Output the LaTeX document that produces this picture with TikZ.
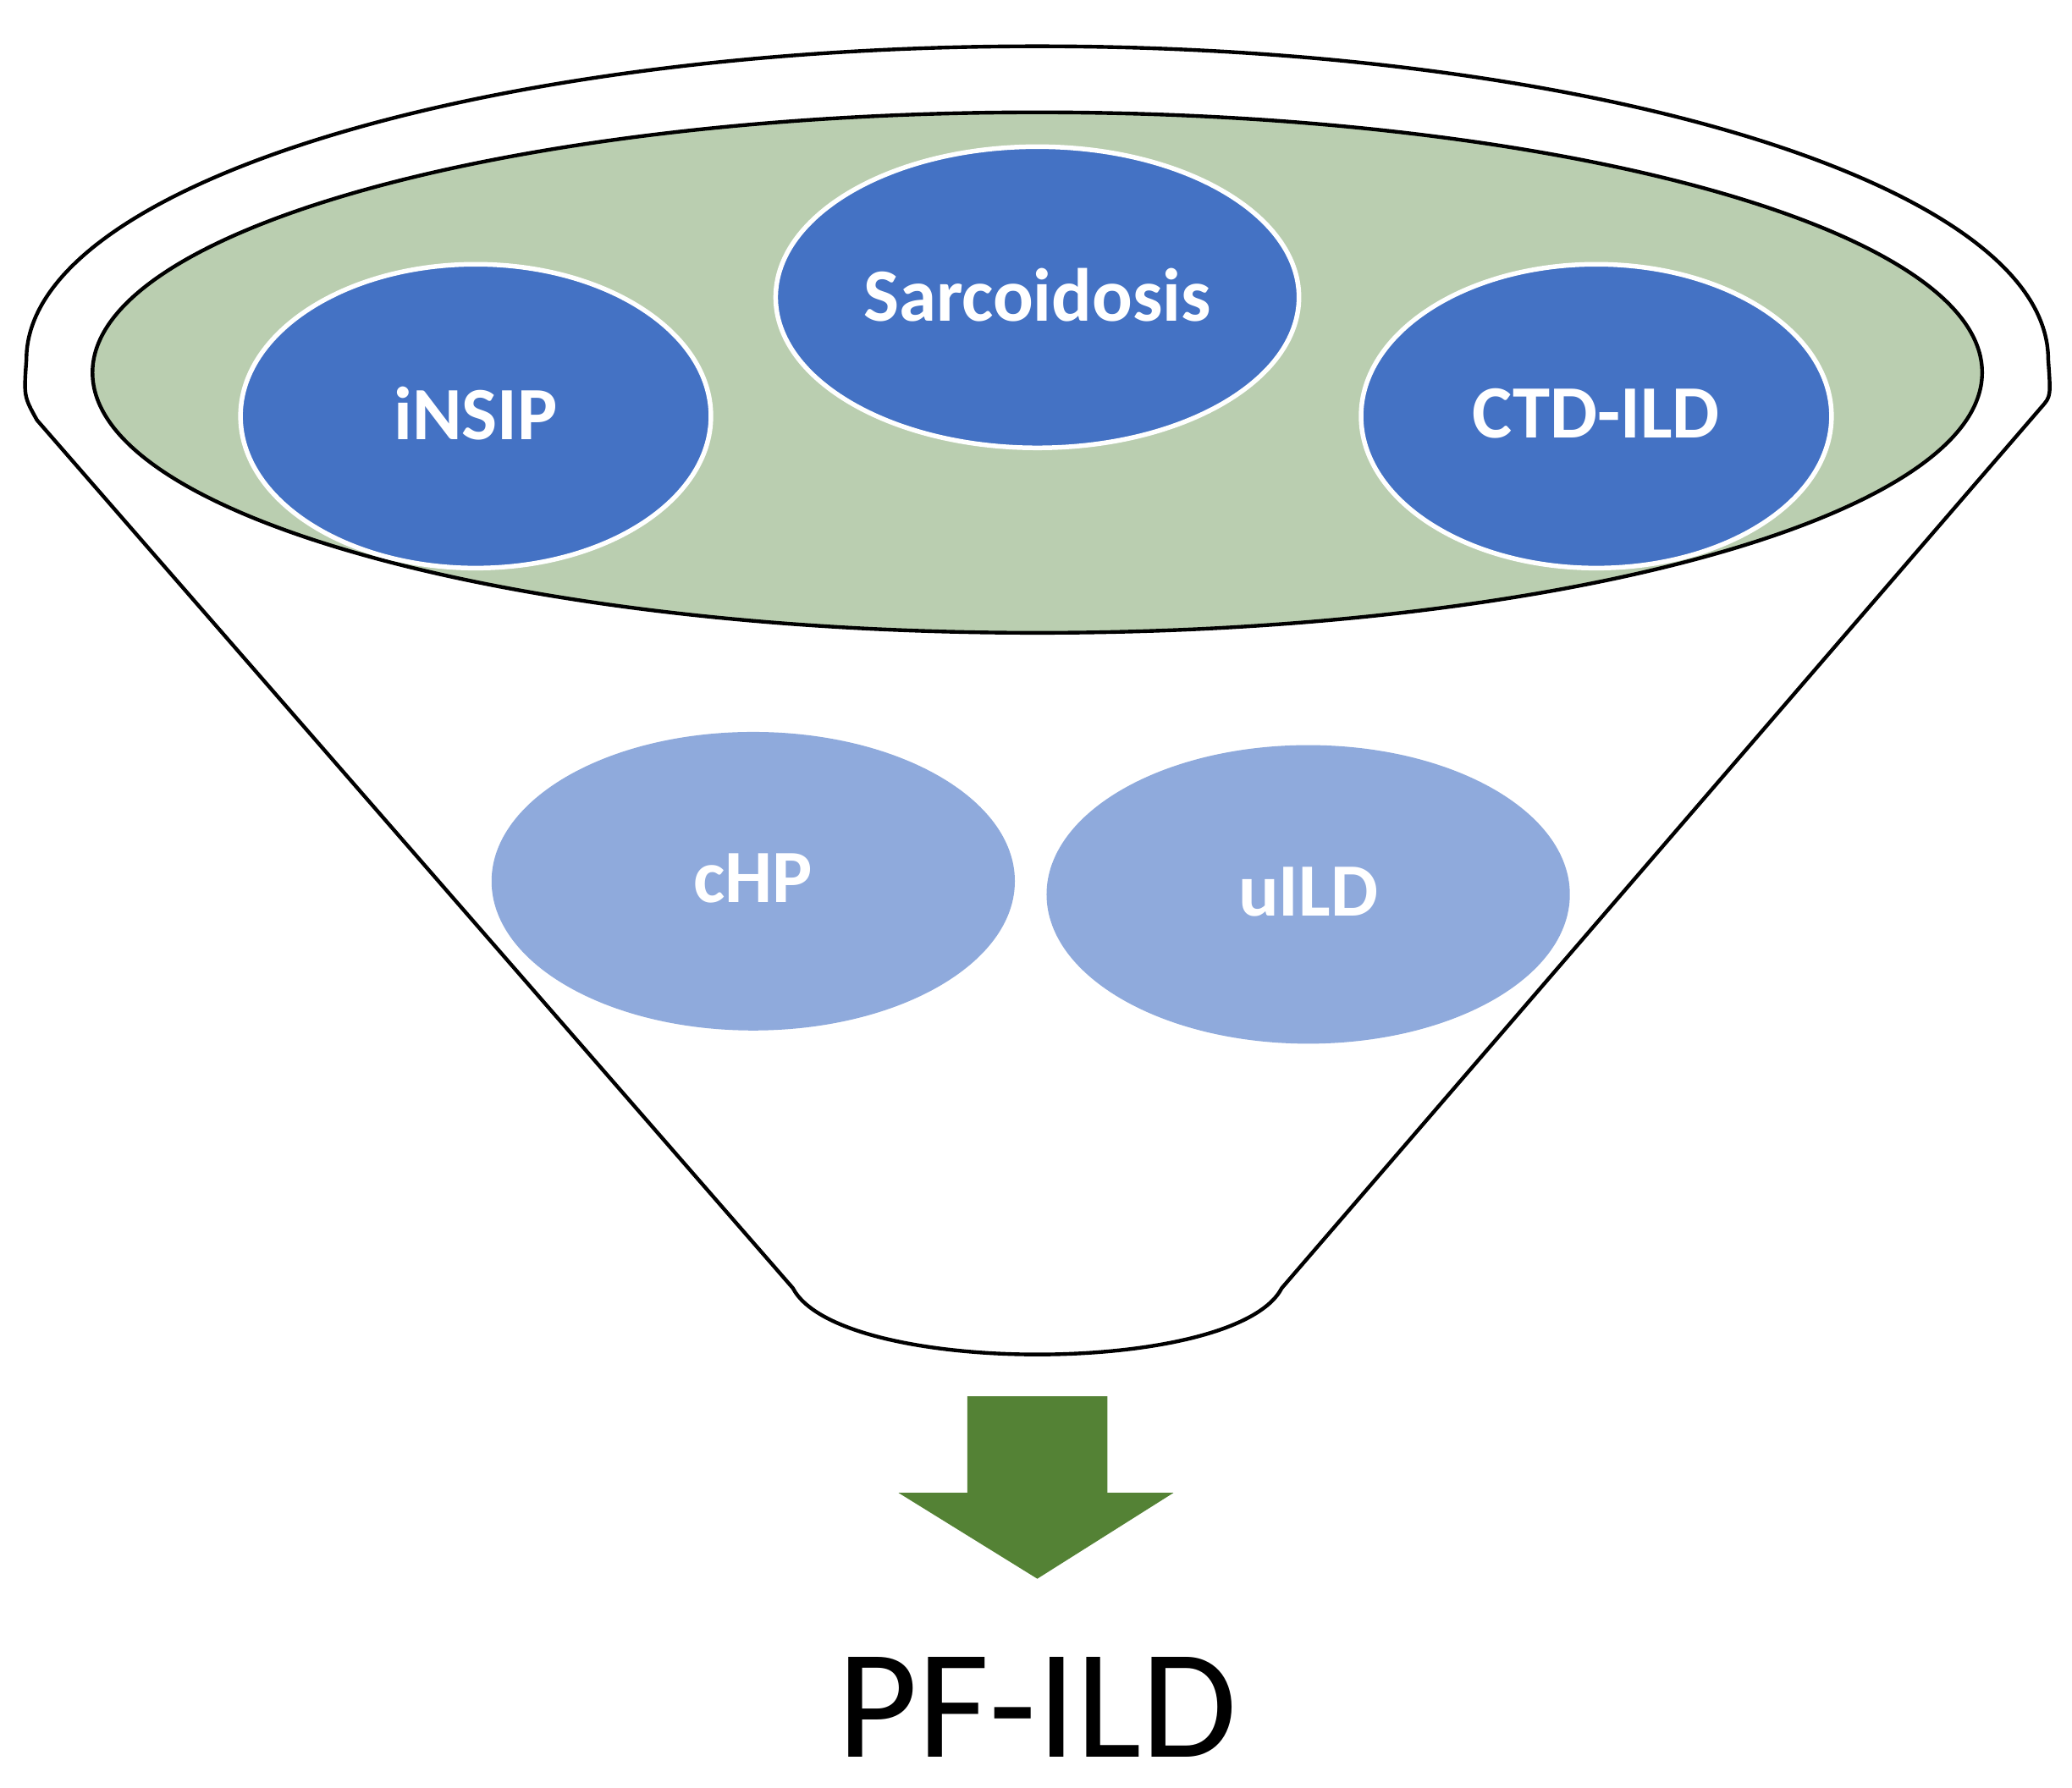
\documentclass[tikz,border=0pt]{standalone}
\usepackage{fontspec}
\setmainfont{Carlito}
\begin{document}
\begin{tikzpicture}[x=0.01cm,y=-0.01cm,
  lbl/.style={text=white,font=\fontsize{16.2}{18}\selectfont\bfseries}]
\definecolor{darkb}{HTML}{4472C4}
\definecolor{lightb}{HTML}{8FAADC}
\definecolor{greenf}{HTML}{BACEB0}
\definecolor{arrowg}{HTML}{548235}
\useasboundingbox (0,0) rectangle (1568,1353);
\draw[line width=0.8pt,fill=white] (28,318) .. controls (18,300) .. (20,272)
  arc[start angle=180,end angle=360,x radius=765,y radius=237]
  .. controls (1552,300) .. (1545,308) -- (970,975)
  .. controls (935,1042) and (635,1042) .. (600,975) -- cycle;
\draw[line width=0.8pt,fill=greenf] (785,282) ellipse[x radius=715,y radius=197];
\fill[darkb,draw=white,line width=1pt] (360,315) ellipse[x radius=178,y radius=115];
\fill[darkb,draw=white,line width=1pt] (785,225) ellipse[x radius=198,y radius=114];
\fill[darkb,draw=white,line width=1pt] (1208,315) ellipse[x radius=178,y radius=115];
\fill[lightb] (570,667) ellipse[x radius=198,y radius=113];
\fill[lightb] (990,677) ellipse[x radius=198,y radius=113];
\node[lbl] (insip) at (360,313) {iNSIP};
\node[lbl] (sarc) at (785,223) {Sarcoidosis};
\node[lbl] (ctd) at (1208,313) {CTD-ILD};
\node[lbl] (chp) at (570,665) {cHP};
\node[lbl] (uild) at (990,675) {uILD};
\fill[arrowg] (732,1057) -- (838,1057) -- (838,1130) -- (888,1130) -- (785,1195) -- (680,1130) -- (732,1130) -- cycle;
\node[font=\fontsize{33.5}{36}\selectfont] (pf) at (785,1292) {PF-ILD};
\end{tikzpicture}
\end{document}
